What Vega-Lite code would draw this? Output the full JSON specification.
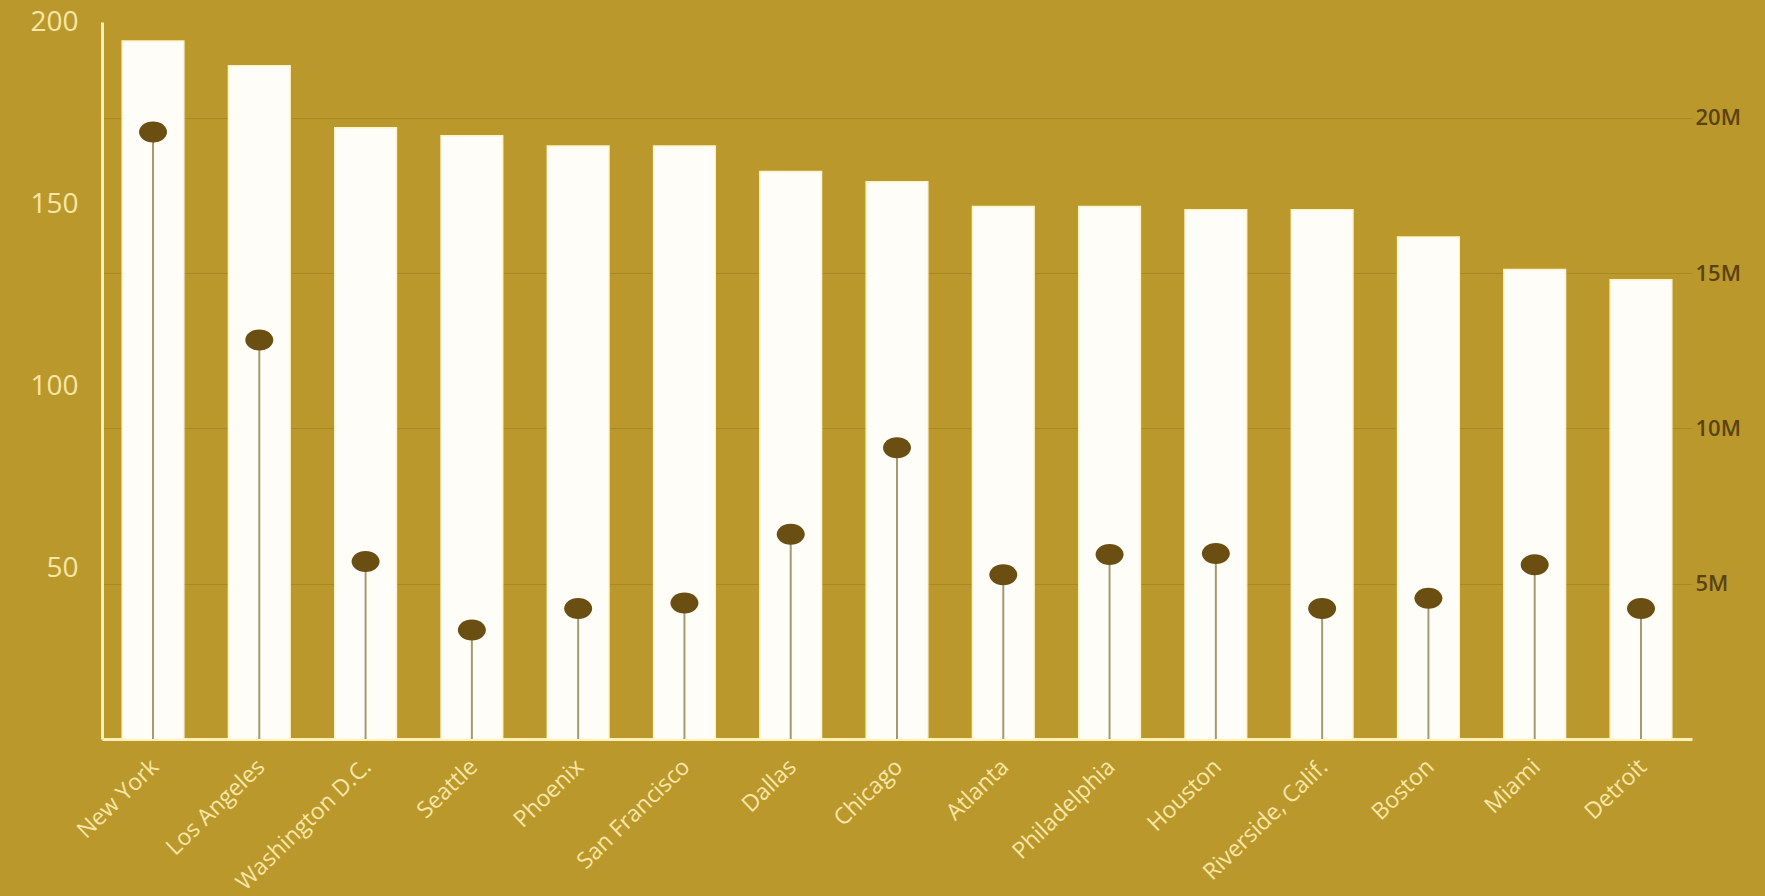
{
  "$schema": "https://vega.github.io/schema/vega-lite/v6.json",
  "autosize": "none",
  "width": 1590,
  "height": 717,
  "padding": {"left": 102, "top": 22, "right": 73, "bottom": 157},
  "background": "#bb982c",
  "config": {
    "view": {"stroke": null},
    "font": "Open Sans"
  },
  "data": {
    "values": [
      {"city": "New York", "score": 194.8, "pop": 19550000},
      {"city": "Los Angeles", "score": 188.0, "pop": 12850000},
      {"city": "Washington D.C.", "score": 171.0, "pop": 5720000},
      {"city": "Seattle", "score": 168.8, "pop": 3510000},
      {"city": "Phoenix", "score": 166.0, "pop": 4200000},
      {"city": "San Francisco", "score": 166.0, "pop": 4380000},
      {"city": "Dallas", "score": 159.0, "pop": 6590000},
      {"city": "Chicago", "score": 156.2, "pop": 9380000},
      {"city": "Atlanta", "score": 149.4, "pop": 5290000},
      {"city": "Philadelphia", "score": 149.4, "pop": 5940000},
      {"city": "Houston", "score": 148.5, "pop": 5970000},
      {"city": "Riverside, Calif.", "score": 148.5, "pop": 4200000},
      {"city": "Boston", "score": 141.0, "pop": 4530000},
      {"city": "Miami", "score": 132.1, "pop": 5610000},
      {"city": "Detroit", "score": 129.3, "pop": 4200000}
    ]
  },
  "encoding": {
    "x": {
      "field": "city",
      "type": "nominal",
      "sort": null,
      "scale": {"paddingInner": 0.42, "paddingOuter": 0.19},
      "axis": {
        "title": null,
        "labelAngle": -44,
        "labelAlign": "right",
        "labelBaseline": "middle",
        "labelColor": "#f7e6a6",
        "labelFontSize": 23,
        "labelLimit": 0,
        "labelPadding": 24,
        "labelOffset": 2,
        "ticks": false,
        "domainColor": "#fff1b8",
        "domainWidth": 3
      }
    }
  },
  "layer": [
    {
      "mark": {"type": "bar", "color": "#fffdf8", "clip": true, "stroke": "#fff4c8", "strokeWidth": 1.5},
      "encoding": {
        "y": {
          "field": "score",
          "type": "quantitative",
          "scale": {"domain": [3.3, 200], "nice": false, "zero": false},
          "axis": {
            "title": null,
            "values": [50, 100, 150, 200],
            "grid": false,
            "ticks": false,
            "labelPadding": 24,
            "labelColor": "#f7e6a6",
            "labelFontSize": 28,
            "domainColor": "#fff1b8",
            "domainWidth": 3
          }
        }
      }
    },
    {
      "layer": [
        {
          "mark": {"type": "rule", "color": "#a39a72", "strokeWidth": 2},
          "encoding": {
            "y": {
              "field": "pop",
              "type": "quantitative",
              "scale": {"domain": [0, 23090000], "nice": false},
              "axis": {
                "title": null,
                "orient": "right",
                "values": [5000000, 10000000, 15000000, 20000000],
                "format": "~s",
                "grid": true,
                "gridColor": "#8a6a14",
                "gridOpacity": 0.35,
                "gridWidth": 1,
                "ticks": false,
                "domain": false,
                "labelPadding": 3,
                "labelColor": "#5a4312",
                "labelFontSize": 22,
                "labelFontWeight": 600
              }
            },
            "y2": {"datum": 0}
          }
        },
        {
          "mark": {
            "type": "point",
            "filled": true,
            "opacity": 1,
            "color": "#6a4e12",
            "size": 784,
            "shape": "M -1 0 A 1 0.75 0 1 0 1 0 A 1 0.75 0 1 0 -1 0 Z"
          },
          "encoding": {
            "y": {"field": "pop", "type": "quantitative"}
          }
        }
      ]
    }
  ],
  "resolve": {"scale": {"y": "independent"}}
}
